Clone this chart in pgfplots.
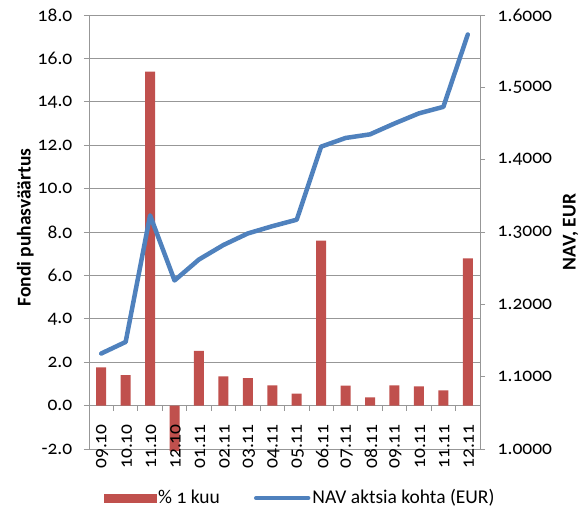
\documentclass[border=0pt]{standalone}
\usepackage{pgfplots}
\pgfplotsset{compat=1.18}
\usepackage{fontspec}
\setmainfont{Carlito}[Numbers=OldStyle]
\definecolor{barred}{HTML}{C0504D}
\definecolor{navblue}{HTML}{4F81BD}
\definecolor{gridgray}{HTML}{979797}

% % 1 kuu (left axis)
\pgfplotstableread{
x val
0 1.76
1 1.41
2 15.39
3 -2.1
4 2.52
5 1.35
6 1.27
7 0.93
8 0.55
9 7.6
10 0.92
11 0.38
12 0.93
13 0.89
14 0.70
15 6.79
}\kuu

% NAV aktsia kohta (right axis)
\pgfplotstableread{
x nav
0 1.132
1 1.148
2 1.323
3 1.233
4 1.262
5 1.282
6 1.298
7 1.308
8 1.317
9 1.418
10 1.430
11 1.435
12 1.450
13 1.464
14 1.473
15 1.573
}\nav

\begin{document}
\fontsize{19.5bp}{22bp}\selectfont
\begin{tikzpicture}
\pgfplotsset{
  base/.style={
    scale only axis, width=391bp, height=434bp,
    xmin=-0.5, xmax=15.5,
    /pgf/number format/assume math mode=true,
    axis line style={gridgray, line width=0.8bp},
    tick style={gridgray, line width=0.8bp},
    major tick length=5bp,
    tick align=outside,
  },
}
\path[use as bounding box] (-89bp,-60bp) rectangle (496bp,449bp);

% bars, left axis, grid
\begin{axis}[base,
  ymin=-2, ymax=18,
  ytick={-2,0,2,4,6,8,10,12,14,16,18},
  axis y line*=left,
  axis x line*=middle,
  hide obscured x ticks=false, hide obscured y ticks=false,
  ymajorgrids, grid style={gridgray, line width=0.8bp},
  yticklabel style={/pgf/number format/fixed, /pgf/number format/fixed zerofill,
    /pgf/number format/precision=1, xshift=-5bp},
  xtick={-0.5,0.5,...,15.5}, xticklabels={},
  ylabel={\bfseries Fondi puhasväärtus},
  ylabel style={at={(axis description cs:-0.163,0.51)}, rotate=0, anchor=center},
  clip=false,
]
\addplot[ybar, bar width=10bp, fill=barred, draw=none] table[x=x, y=val] {\kuu};
\end{axis}

% NAV line, right axis, legend
\begin{axis}[base,
  ymin=1, ymax=1.6,
  ytick={1,1.1,1.2,1.3,1.4,1.5,1.6},
  axis y line*=right,
  axis x line=none,
  yticklabel style={/pgf/number format/fixed, /pgf/number format/fixed zerofill,
    /pgf/number format/precision=4, xshift=6bp},
  ylabel={\bfseries NAV, EUR},
  ylabel style={at={(axis description cs:1.232,0.5)}, rotate=0, anchor=center},
  legend style={at={(axis description cs:0.540,-0.113)}, anchor=center,
    draw=none, fill=none, legend columns=-1,
    /tikz/every even column/.append style={column sep=32bp}},
]
\addlegendimage{legend image code/.code={\fill[barred] (0bp,-4bp) rectangle (52bp,4bp);}}
\addlegendentry{\% 1 kuu}
\addplot[navblue, line width=4.5bp, line join=round, line cap=round,
  legend image code/.code={\draw[navblue, line width=4.5bp, line cap=round] (0bp,0bp) -- (52bp,0bp);}]
  table[x=x, y=nav] {\nav};
\addlegendentry{NAV aktsia kohta (EUR)}
\end{axis}

% category labels, drawn last so they sit over the bars
\begin{axis}[base,
  ymin=-2, ymax=18,
  axis y line=none,
  axis x line*=middle,
  axis line style={draw=none},
  hide obscured x ticks=false,
  major tick length=0pt,
  xtick={0,1,...,15},
  xticklabels={09.10,10.10,11.10,12.10,01.11,02.11,03.11,04.11,05.11,06.11,07.11,08.11,09.11,10.11,11.11,12.11},
  xticklabel style={rotate=90, anchor=east, yshift=-1bp, xshift=-12bp},
]
\end{axis}
\end{tikzpicture}
\end{document}
